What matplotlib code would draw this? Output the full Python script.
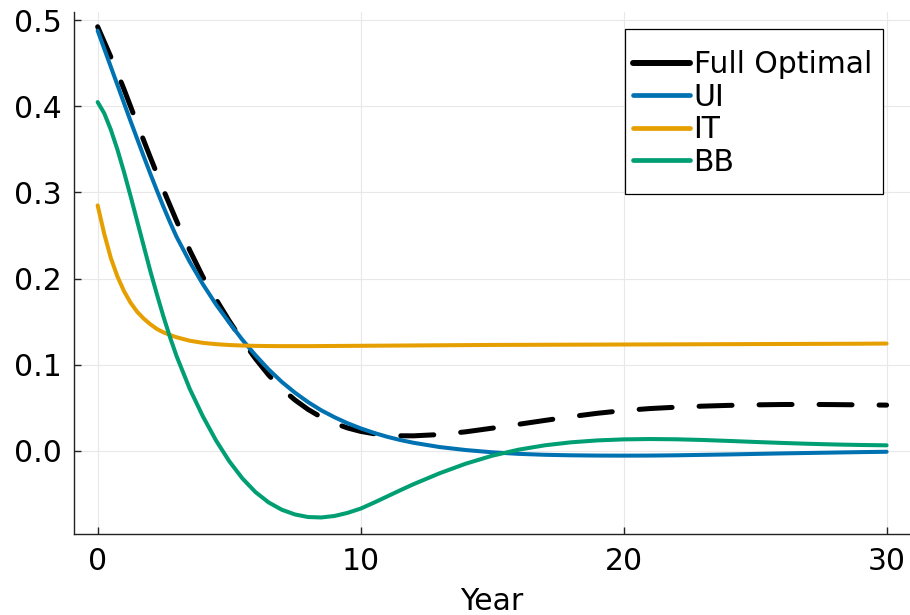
import matplotlib
matplotlib.use("Agg")
import matplotlib.pyplot as plt
from matplotlib.patches import Rectangle

# Time grid (years) shared by all four policy paths
years = [0, 0.25, 0.5, 0.75, 1, 1.25, 1.5, 1.75, 2, 2.25, 2.5, 2.75, 3,
         3.5, 4, 4.5, 5, 5.5, 6, 6.5, 7, 7.5, 8, 8.5, 9, 9.5, 10, 10.5, 11,
         11.5, 12, 13, 14, 15, 16, 17, 18, 19, 20, 21, 22, 23, 24, 25, 26,
         27, 28, 29, 30]

full_optimal = [0.4925, 0.475, 0.4575, 0.439, 0.420, 0.400, 0.380, 0.3605,
                0.341, 0.322, 0.303, 0.285, 0.267,
                0.233, 0.202, 0.176, 0.151, 0.128, 0.107, 0.088, 0.072, 0.059,
                0.048, 0.039, 0.032, 0.0265, 0.0225, 0.0198, 0.0182, 0.0174,
                0.0173, 0.0188, 0.0220, 0.0262, 0.0307, 0.0352, 0.0396, 0.0435,
                0.0467, 0.0490, 0.0506, 0.0518, 0.0527, 0.0533, 0.0537, 0.0538,
                0.0536, 0.0533, 0.0530]

ui = [0.488, 0.467, 0.446, 0.425, 0.404, 0.383, 0.3625, 0.342, 0.322, 0.3025,
      0.2835, 0.2655, 0.2485,
      0.2195, 0.1935, 0.170, 0.149, 0.129, 0.111, 0.0945, 0.0800, 0.0675,
      0.0565, 0.0470, 0.0390, 0.0320, 0.0260, 0.0208, 0.0163, 0.0125, 0.0093,
      0.0043, 0.0008, -0.0018, -0.0036, -0.0047, -0.0053, -0.0056, -0.0057,
      -0.0056, -0.0053, -0.0048, -0.0043, -0.0037, -0.0031, -0.0026, -0.0021,
      -0.0016, -0.0012]

it = [0.285, 0.252, 0.224, 0.2025, 0.1855, 0.172, 0.1615, 0.1535, 0.147,
      0.1415, 0.1375, 0.1345, 0.1318,
      0.1278, 0.1253, 0.1238, 0.1228, 0.1222, 0.1218, 0.1216, 0.1215, 0.1215,
      0.1215, 0.1216, 0.1217, 0.1218, 0.1219, 0.1220, 0.1221, 0.1222, 0.1223,
      0.1225, 0.1227, 0.1229, 0.1230, 0.1231, 0.1232, 0.1233, 0.1234, 0.1235,
      0.1236, 0.1237, 0.1238, 0.1239, 0.1240, 0.1241, 0.1242, 0.1243, 0.1245]

bb = [0.405, 0.392, 0.373, 0.350, 0.324, 0.296, 0.267, 0.238, 0.209, 0.182,
      0.156, 0.132, 0.110,
      0.072, 0.040, 0.012, -0.012, -0.032, -0.048, -0.060, -0.0685, -0.074,
      -0.077, -0.0775, -0.0758, -0.0722, -0.0672, -0.0604, -0.0532, -0.0460,
      -0.0390, -0.0262, -0.0150, -0.0058, 0.0012, 0.0063, 0.0098, 0.0120,
      0.0132, 0.0136, 0.0133, 0.0125, 0.0114, 0.0102, 0.0091, 0.0081, 0.0073,
      0.0067, 0.0063]

labels = ["Full Optimal", "UI", "IT", "BB"]
colors = ["black", "#0072B2", "#E69F00", "#009E73"]

x_ticks = [0, 10, 20, 30]
y_ticks = [0.0, 0.1, 0.2, 0.3, 0.4, 0.5]

plt.rcParams["font.family"] = ["DejaVu Sans"]
FS = 21.5

fig = plt.figure(figsize=(9.1, 6.15), dpi=100)
ax = fig.add_axes([0.0813, 0.1320, 0.919, 0.8486])

lw_main = 2.9
lw_black = 3.6
line_opt, = ax.plot(years, full_optimal, color=colors[0], lw=lw_black,
                    dash_capstyle="round", solid_capstyle="round",
                    label=labels[0])
line_opt.set_dashes((6.6, 5.4))
ax.plot(years, ui, color=colors[1], lw=lw_main, solid_capstyle="round", label=labels[1])
ax.plot(years, it, color=colors[2], lw=lw_main, solid_capstyle="round", label=labels[2])
ax.plot(years, bb, color=colors[3], lw=lw_main, solid_capstyle="round", label=labels[3])

ax.set_xlim(-0.9, 30.9)
ax.set_ylim(-0.0965, 0.5097)
ax.set_xticks(x_ticks)
ax.set_yticks(y_ticks)
ax.set_xticklabels([str(v) for v in x_ticks])
ax.set_yticklabels([f"{v:.1f}" for v in y_ticks])

ax.grid(True, color="#e8e8e8", lw=0.8)
ax.set_axisbelow(True)
for side in ("top", "right"):
    ax.spines[side].set_visible(False)
for side in ("left", "bottom"):
    ax.spines[side].set_color("#222222")
    ax.spines[side].set_linewidth(1.0)

ax.tick_params(axis="both", direction="in", length=5, width=1.0,
               color="#222222", labelsize=FS)
ax.tick_params(axis="y", pad=9)
ax.tick_params(axis="x", pad=9.5)
ax.set_xlabel("Year", fontsize=FS, labelpad=8)

# Legend with a tall, narrow frame drawn behind it
frame = Rectangle((625 / 910, 1 - 194 / 615), 257.7 / 910, 164.7 / 615,
                  transform=fig.transFigure, facecolor="white",
                  edgecolor="black", lw=0.9, zorder=4)
fig.patches.append(frame)
leg = fig.legend(loc="center left", bbox_to_anchor=(633.2 / 910, 1 - 113.5 / 615),
                 frameon=False, fontsize=FS, handlelength=1.9,
                 handletextpad=0.12, labelspacing=0.12, borderpad=0,
                 borderaxespad=0)
leg.set_zorder(5)
for h, w in zip(leg.legend_handles, [4.3, 3.4, 3.4, 3.4]):
    h.set_linestyle("-")
    h.set_linewidth(w)
    h.set_solid_capstyle("round")

fig.savefig("out.png", dpi=100)
